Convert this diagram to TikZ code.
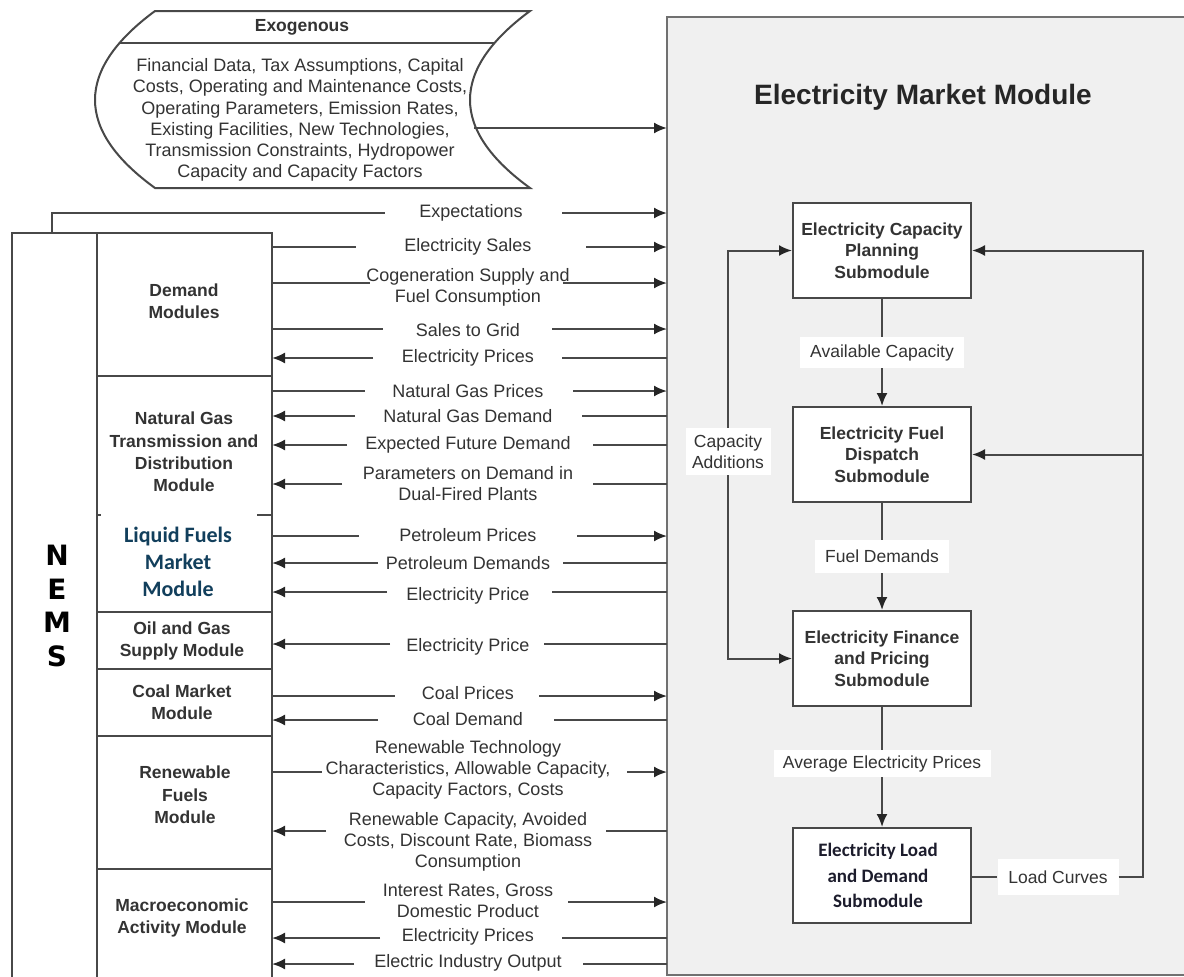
\documentclass[tikz,border=0pt]{standalone}
\usepackage{fontspec}
\setmainfont{Liberation Sans}
\newfontfamily\calib{Carlito}
\newfontfamily\heavy{DejaVu Sans}
\usetikzlibrary{arrows.meta}
\definecolor{lc}{HTML}{484848}
\definecolor{bc}{HTML}{707070}
\definecolor{tc}{HTML}{333333}
\definecolor{emmbg}{HTML}{F0F0F0}
\definecolor{lfcol}{HTML}{123F5C}
\definecolor{ldcol}{HTML}{1C1C2C}
\tikzset{
 ln/.style={draw=lc, line width=2pt},
 arr/.style={ln, -{Latex[length=13pt,width=11pt,color=black!85]}},
 lbl/.style={font=\fontsize{18}{21}\selectfont, text=tc, align=center, inner sep=0pt},
 modt/.style={font=\bfseries\fontsize{17.5}{22.3}\selectfont, text=tc, align=center, inner sep=0pt},
 subbox/.style={draw=lc, line width=2pt, fill=white, minimum width=178pt, minimum height=95pt, inner sep=0pt, align=center, font=\bfseries\fontsize{17.5}{21.5}\selectfont, text=tc},
 emlbl/.style={fill=white, font=\fontsize{17.5}{20}\selectfont, text=tc, align=center, inner sep=0pt},
}
\newcommand\flowR[6]{%
 \coordinate (#1L) at (272,#2);
 \coordinate (#1a) at (#3,#2);
 \coordinate (#1b) at (#4,#2);
 \coordinate (#1R) at (667,#2);
 \node[lbl] (#1t) at (468,#5) {#6};
 \draw[ln] (#1L) -- (#1a);
 \draw[arr] (#1b) -- (#1R);
}
\newcommand\flowL[6]{%
 \coordinate (#1L) at (272,#2);
 \coordinate (#1a) at (#3,#2);
 \coordinate (#1b) at (#4,#2);
 \coordinate (#1R) at (667,#2);
 \node[lbl] (#1t) at (468,#5) {#6};
 \draw[arr] (#1a) -- (#1L);
 \draw[ln] (#1b) -- (#1R);
}
\begin{document}
\begin{tikzpicture}[x=1pt,y=-1pt]
\useasboundingbox (0,0) rectangle (1184,977);
\clip (0,0) rectangle (1184,977);
\fill[white] (0,0) rectangle (1184,977);

% Electricity Market Module frame
\fill[emmbg] (667,17) rectangle (1200,975);
\draw[draw=bc, line width=2pt] (1200,17) -- (667,17) -- (667,975) -- (1200,975);
\node[font=\bfseries\fontsize{28}{32}\selectfont, text=black!85] (emmt) at (923,97) {Electricity Market Module};

% Exogenous shape
\draw[ln] (155,11) -- (530,11) .. controls (450,70) and (450,130) .. (530,188) -- (155,188) .. controls (75,130) and (75,70) .. (155,11) -- cycle;
\begin{scope}
\clip (155,11) -- (530,11) .. controls (450,70) and (450,130) .. (530,188) -- (155,188) .. controls (75,130) and (75,70) .. (155,11) -- cycle;
\draw[ln] (50,43) -- (600,43);
\end{scope}
\node[modt] (exot) at (302,27) {Exogenous};
\node[lbl, font=\fontsize{18}{21.3}\selectfont] (exob) at (300,120) {Financial Data, Tax Assumptions, Capital\\Costs, Operating and Maintenance Costs,\\Operating Parameters, Emission Rates,\\Existing Facilities, New Technologies,\\Transmission Constraints, Hydropower\\Capacity and Capacity Factors};
\coordinate (exo) at (474,128);
\coordinate (emmin) at (667,128);
\draw[arr] (exo) -- (emmin);

% NEMS column
\draw[ln] (12,990) -- (12,233) -- (272,233) -- (272,990);
\draw[ln] (97,233) -- (97,990);
\draw[ln] (97,376) -- (272,376);
\draw[ln] (97,515) -- (101,515);
\draw[ln] (257,515) -- (272,515);
\draw[ln] (97,612) -- (272,612);
\draw[ln] (97,669) -- (272,669);
\draw[ln] (97,736) -- (272,736);
\draw[ln] (97,869) -- (272,869);
\node[font=\heavy\bfseries\fontsize{28}{33.7}\selectfont, align=center, inner sep=0pt] (nems) at (57,606) {N\\E\\M\\S};

\node[modt] (dem) at (184,301) {Demand\\Modules};
\node[modt] (ng) at (184,452) {Natural Gas\\Transmission and\\Distribution\\Module};
\node[font=\calib\bfseries\fontsize{22}{27}\selectfont, text=lfcol, align=center, inner sep=0pt] (lf) at (178,562) {Liquid Fuels\\Market\\Module};
\node[modt] (og) at (182,641) {Oil and Gas\\Supply Module};
\node[modt] (coal) at (182,702) {Coal Market\\Module};
\node[modt] (ren) at (185,795) {Renewable\\Fuels\\Module};
\node[modt] (mac) at (182,918) {Macroeconomic\\Activity Module};

% Expectations
\coordinate (expS) at (52,233);
\coordinate (expa) at (385,213);
\coordinate (expb) at (562,213);
\coordinate (expR) at (667,213);
\node[lbl] (expt) at (471,213) {Expectations};
\draw[ln] (expS) |- (expa);
\draw[arr] (expb) -- (expR);

\flowR{sal}{247}{356}{586}{247}{Electricity Sales}
\flowR{cog}{283}{370}{563}{287}{Cogeneration Supply and\\Fuel Consumption}
\flowR{grid}{329}{383}{552}{330}{Sales to Grid}
\flowL{elp}{358}{373}{562}{358}{Electricity Prices}
\flowR{ngp}{391}{365}{573}{391}{Natural Gas Prices}
\flowL{ngd}{416}{355}{582}{416}{Natural Gas Demand}
\flowL{efd}{445}{347}{593}{445}{Expected Future Demand}
\flowL{par}{484}{342}{593}{484}{Parameters on Demand in\\Dual-Fired Plants}
\flowR{petp}{536}{359}{577}{535}{Petroleum Prices}
\flowL{petd}{563}{378}{563}{563}{Petroleum Demands}
\flowL{epa}{592}{387}{552}{596}{Electricity Price}
\flowL{epb}{644}{390}{544}{647}{Electricity Price}
\flowR{cp}{696}{395}{539}{693}{Coal Prices}
\flowL{cd}{720}{378}{554}{719}{Coal Demand}
\flowR{rt}{772}{322}{627}{770}{Renewable Technology\\Characteristics, Allowable Capacity,\\Capacity Factors, Costs}
\flowL{rc}{831}{326}{606}{842}{Renewable Capacity, Avoided\\Costs, Discount Rate, Biomass\\Consumption}
\flowR{ir}{902}{365}{568}{901}{Interest Rates, Gross\\Domestic Product}
\flowL{ep2}{938}{380}{562}{937}{Electricity Prices}
\flowL{eio}{964}{354}{583}{963}{Electric Industry Output}

% Submodules
\node[subbox] (CP) at (882,250.5) {Electricity Capacity\\Planning\\Submodule};
\node[subbox] (FD) at (882,454.5) {Electricity Fuel\\Dispatch\\Submodule};
\node[subbox] (FP) at (882,658.5) {Electricity Finance\\and Pricing\\Submodule};
\node[subbox, font=\calib\bfseries\fontsize{19}{25.5}\selectfont, text=ldcol] (LD) at (882,875.5) {\hspace*{-8pt}Electricity Load\\\hspace*{-8pt}and Demand\\\hspace*{-8pt}Submodule};

\node[emlbl, minimum width=164pt, minimum height=31pt] (avc) at (882,352.5) {Available Capacity};
\node[emlbl, minimum width=134pt, minimum height=33pt] (fdm) at (882,556.5) {Fuel Demands};
\node[emlbl, minimum width=217pt, minimum height=27pt] (aep) at (882,763.5) {Average Electricity Prices};
\node[emlbl, minimum width=85pt, minimum height=47pt, font=\fontsize{17.5}{20.5}\selectfont] (cad) at (728,451.5) {Capacity\\Additions};
\node[emlbl, minimum width=121pt, minimum height=36pt] (lcv) at (1058,877) {Load Curves};

\draw[ln] (CP.south) -- (avc.north);
\draw[arr] (avc.south) -- (FD.north);
\draw[ln] (FD.south) -- (fdm.north);
\draw[arr] (fdm.south) -- (FP.north);
\draw[ln] (FP.south) -- (aep.north);
\draw[arr] (aep.south) -- (LD.north);
\draw[arr] (cad.north) |- (CP.west);
\draw[arr] (cad.south) |- (FP.west);
\coordinate (rbot) at (1143,877);
\coordinate (rmid) at (1143,454.5);
\draw[ln] (LD.east |- lcv.west) -- (lcv.west);
\draw[arr] (lcv.east) -- (rbot) |- (CP.east);
\draw[arr] (rmid) -- (FD.east);
\end{tikzpicture}
\end{document}
